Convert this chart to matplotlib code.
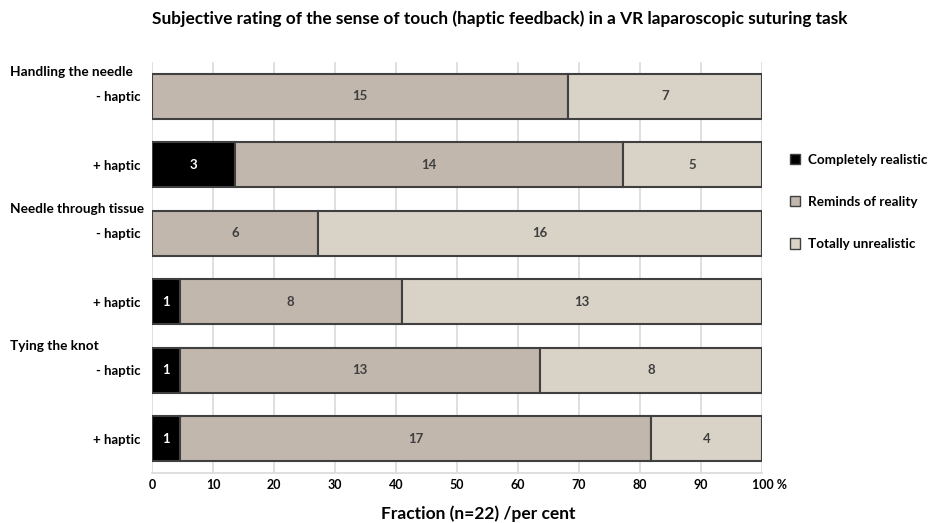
import matplotlib.pyplot as plt
from matplotlib.patches import Patch
from matplotlib.transforms import ScaledTranslation

plt.rcParams["font.family"] = ["Lato", "DejaVu Sans"]
plt.rcParams["font.weight"] = "bold"

N = 22
GROUPS = ["Handling the needle", "Needle through tissue", "Tying the knot"]
ROW_LABELS = ["- haptic", "+ haptic"] * 3
CATEGORIES = ["Completely realistic", "Reminds of reality", "Totally unrealistic"]
COMPLETELY = [0, 3, 0, 1, 1, 1]
REMINDS = [15, 14, 6, 8, 13, 17]
UNREALISTIC = [7, 5, 16, 13, 8, 4]
COLORS = ["#000000", "#c1b7ad", "#d9d2c7"]
TEXT_COLORS = ["white", "#3f3f3f", "#3f3f3f"]


def main() -> None:
    fig = plt.figure(figsize=(9.3, 5.23), dpi=100)
    ax = fig.add_axes([0.1634, 0.0956, 0.656, 0.786])

    rows = range(len(ROW_LABELS))
    left = [0.0] * len(ROW_LABELS)
    for series, color, tcolor in zip([COMPLETELY, REMINDS, UNREALISTIC], COLORS, TEXT_COLORS):
        widths = [v / N * 100 for v in series]
        ax.barh(rows, widths, left=left, height=0.66, color=color,
                edgecolor="#404040", linewidth=1.5, zorder=3)
        for r, (v, w, l) in enumerate(zip(series, widths, left)):
            if v > 0:
                ax.text(l + w / 2, r, str(v), ha="center", va="center",
                        color=tcolor, fontsize=9.5, fontweight="bold", zorder=4)
        left = [l + w for l, w in zip(left, widths)]

    ax.set_xlim(0, 100)
    ax.set_ylim(5.5, -0.5)
    ax.set_xticks(range(0, 101, 10))
    ax.set_xticklabels([str(t) for t in range(0, 100, 10)] + ["100 %"])
    ax.tick_params(axis="x", length=0, pad=4, labelsize=9)
    last = ax.get_xticklabels()[-1]
    last.set_transform(last.get_transform() + ScaledTranslation(7 / 100, 0, fig.dpi_scale_trans))
    ax.set_yticks(list(rows))
    ax.set_yticklabels(ROW_LABELS)
    ax.tick_params(axis="y", length=0, pad=8, labelsize=9.5)
    ax.grid(axis="x", color="#d9d9d9", linewidth=1.2, zorder=0)
    for side in ["left", "right", "top"]:
        ax.spines[side].set_visible(False)
    ax.spines["bottom"].set_color("#d9d9d9")
    ax.spines["bottom"].set_linewidth(1.2)

    for i, g in enumerate(GROUPS):
        ax.text(-0.232, 2 * i - 0.35, g, transform=ax.get_yaxis_transform(),
                ha="left", va="center", fontsize=9.8, fontweight="bold")

    handles = [Patch(facecolor=c, edgecolor="#404040", linewidth=1.0) for c in COLORS]
    fig.legend(handles, CATEGORIES, loc="center left", bbox_to_anchor=(0.849, 0.614),
               frameon=False, fontsize=9.7, handlelength=0.8, handleheight=0.8,
               handletextpad=0.55, labelspacing=2.25, borderpad=0, borderaxespad=0)

    fig.text(0.514, 0.018, "Fraction (n=22) /per cent", ha="center", va="center",
             fontsize=12.5, fontweight="bold")
    fig.text(0.537, 0.964,
             "Subjective rating of the sense of touch (haptic feedback) in a VR laparoscopic suturing task",
             ha="center", va="center", fontsize=12.4, fontweight="bold")

    fig.savefig("out.png", dpi=100)


if __name__ == "__main__":
    main()
